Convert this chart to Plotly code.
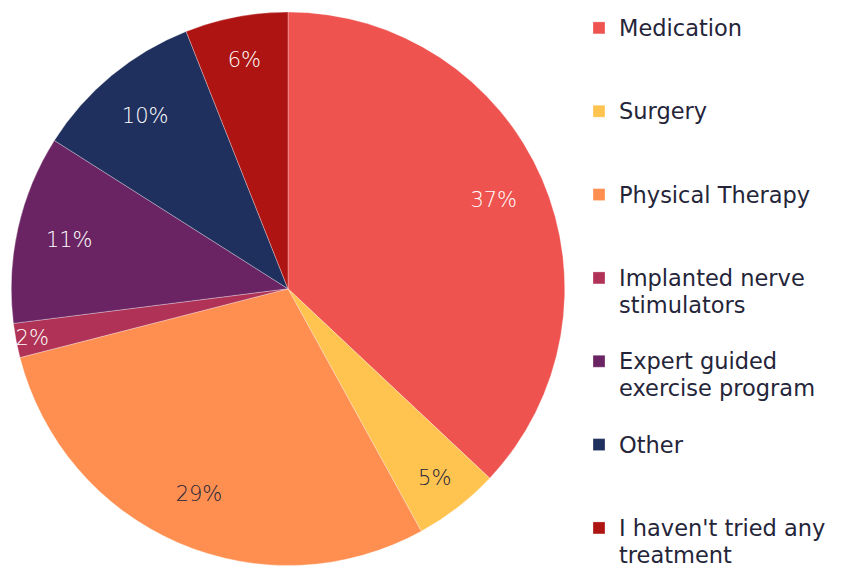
import plotly.graph_objects as go

categories = ["Medication", "Surgery", "Physical Therapy", "Implanted nerve stimulators",
              "Expert guided exercise program", "Other", "I haven't tried any treatment"]
legend_labels = ["Medication", "Surgery", "Physical Therapy", "Implanted nerve<br>stimulators",
                 "Expert guided<br>exercise program", "Other", "I haven't tried any<br>treatment"]
values = [37, 5, 29, 2, 11, 10, 6]
colors = ["#EF5350", "#FFC44F", "#FF8F50", "#B03256", "#6B2463", "#20305E", "#AE1411"]
text_colors = ["#FFFFFF", "#25253A", "#25253A", "#FFFFFF", "#FFFFFF", "#FFFFFF", "#FFFFFF"]

LEG_FONT = "DejaVu Sans"
LABEL_FONT = "DejaVu Sans"
LEG_SIZE = 20.6
VIS_SIZE = 22.5

W, H = 834, 570  # page body keeps an 8px margin inside the 842x578 window

# legend entries: pad every entry but the last to three lines so the item pitch is even
labels = []
for i, lab in enumerate(legend_labels):
    n = lab.count("<br>") + 1
    parts = lab.split("<br>")
    styled = "<br>".join(f"<span style='font-size:{VIS_SIZE}px'>{p}</span>" for p in parts)
    if i < len(legend_labels) - 1:
        styled += "<br> " * (3 - n)
    labels.append(styled)

pie_domain = dict(x=[3 / W, 557 / W], y=[12.5 / H, 566 / H])

# filled pie (no text)
fig = go.Figure(go.Pie(
    labels=labels,
    values=values,
    sort=False,
    direction="clockwise",
    rotation=0,
    marker=dict(colors=colors, line=dict(color="rgba(255,255,255,0.6)", width=0.5)),
    textinfo="none",
    hoverinfo="label+percent",
    domain=pie_domain,
))

# percentage labels placed in the outer ring of the same pie
fig.add_trace(go.Pie(
    labels=labels,
    values=values,
    sort=False,
    direction="clockwise",
    rotation=0,
    hole=0.62,
    marker=dict(colors=["rgba(0,0,0,0)"] * len(values), line=dict(width=0)),
    texttemplate="%{percent:.0%}",
    textposition="inside",
    insidetextorientation="horizontal",
    insidetextfont=dict(family=LABEL_FONT, size=21, color=text_colors, weight=200),
    hoverinfo="skip",
    showlegend=False,
    domain=pie_domain,
))

fig.update_layout(
    width=W, height=H,
    margin=dict(l=0, r=0, t=0, b=0),
    paper_bgcolor="white",
    plot_bgcolor="white",
    font=dict(family=LEG_FONT, color="#25253A"),
    uniformtext=dict(minsize=21, mode="show"),
    legend=dict(
        x=571 / W, xanchor="left",
        y=1, yanchor="top",
        valign="top",
        font=dict(family=LEG_FONT, size=LEG_SIZE, color="#25253A"),
        bgcolor="rgba(0,0,0,0)",
        borderwidth=0,
    ),
    showlegend=True,
)

fig.write_html("out.html")
